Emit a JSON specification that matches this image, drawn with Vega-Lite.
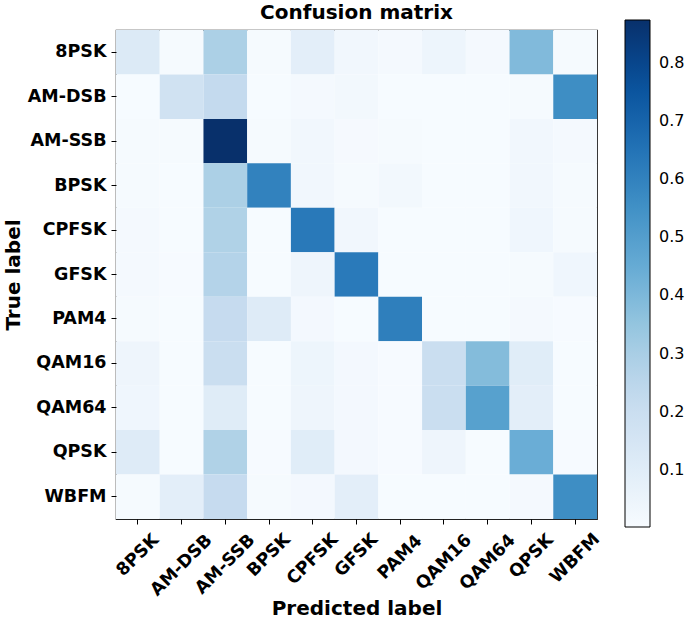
{
  "$schema": "https://vega.github.io/schema/vega-lite/v6.json",
  "autosize": {"type": "none"},
  "padding": {"left": 116, "top": 30, "right": 92, "bottom": 105},
  "width": 481,
  "height": 489,
  "background": "white",
  "title": {"text": "Confusion matrix", "font": "DejaVu Sans", "fontSize": 20, "fontWeight": "bold", "color": "black", "offset": 6, "dy": 9, "frame": "group"},
  "config": {
    "view": {"stroke": "#222", "strokeWidth": 1.2},
    "axis": {"labelFont": "DejaVu Sans", "labelFontWeight": "bold", "labelFontSize": 17.5, "labelColor": "black", "tickColor": "black", "tickSize": 5, "domain": false, "grid": false, "titleFont": "DejaVu Sans", "titleFontSize": 20, "titleFontWeight": "bold", "titleColor": "black"},
    "legend": {"labelFont": "DejaVu Sans", "labelFontSize": 16, "labelColor": "black"}
  },
  "data": {"values": [
    {"t":"8PSK","p":"8PSK","v":0.12},{"t":"8PSK","p":"AM-DSB","v":0.01},{"t":"8PSK","p":"AM-SSB","v":0.29},{"t":"8PSK","p":"BPSK","v":0.01},{"t":"8PSK","p":"CPFSK","v":0.09},{"t":"8PSK","p":"GFSK","v":0.03},{"t":"8PSK","p":"PAM4","v":0.015},{"t":"8PSK","p":"QAM16","v":0.045},{"t":"8PSK","p":"QAM64","v":0.015},{"t":"8PSK","p":"QPSK","v":0.39},{"t":"8PSK","p":"WBFM","v":0.01},
    {"t":"AM-DSB","p":"8PSK","v":0.005},{"t":"AM-DSB","p":"AM-DSB","v":0.175},{"t":"AM-DSB","p":"AM-SSB","v":0.225},{"t":"AM-DSB","p":"BPSK","v":0.005},{"t":"AM-DSB","p":"CPFSK","v":0.015},{"t":"AM-DSB","p":"GFSK","v":0.025},{"t":"AM-DSB","p":"PAM4","v":0.005},{"t":"AM-DSB","p":"QAM16","v":0.005},{"t":"AM-DSB","p":"QAM64","v":0.005},{"t":"AM-DSB","p":"QPSK","v":0.01},{"t":"AM-DSB","p":"WBFM","v":0.56},
    {"t":"AM-SSB","p":"8PSK","v":0.01},{"t":"AM-SSB","p":"AM-DSB","v":0.01},{"t":"AM-SSB","p":"AM-SSB","v":0.874},{"t":"AM-SSB","p":"BPSK","v":0.01},{"t":"AM-SSB","p":"CPFSK","v":0.03},{"t":"AM-SSB","p":"GFSK","v":0.012},{"t":"AM-SSB","p":"PAM4","v":0.01},{"t":"AM-SSB","p":"QAM16","v":0.005},{"t":"AM-SSB","p":"QAM64","v":0.005},{"t":"AM-SSB","p":"QPSK","v":0.03},{"t":"AM-SSB","p":"WBFM","v":0.015},
    {"t":"BPSK","p":"8PSK","v":0.01},{"t":"BPSK","p":"AM-DSB","v":0.005},{"t":"BPSK","p":"AM-SSB","v":0.29},{"t":"BPSK","p":"BPSK","v":0.6},{"t":"BPSK","p":"CPFSK","v":0.03},{"t":"BPSK","p":"GFSK","v":0.01},{"t":"BPSK","p":"PAM4","v":0.025},{"t":"BPSK","p":"QAM16","v":0.005},{"t":"BPSK","p":"QAM64","v":0.005},{"t":"BPSK","p":"QPSK","v":0.03},{"t":"BPSK","p":"WBFM","v":0.01},
    {"t":"CPFSK","p":"8PSK","v":0.015},{"t":"CPFSK","p":"AM-DSB","v":0.005},{"t":"CPFSK","p":"AM-SSB","v":0.28},{"t":"CPFSK","p":"BPSK","v":0.005},{"t":"CPFSK","p":"CPFSK","v":0.63},{"t":"CPFSK","p":"GFSK","v":0.03},{"t":"CPFSK","p":"PAM4","v":0.005},{"t":"CPFSK","p":"QAM16","v":0.005},{"t":"CPFSK","p":"QAM64","v":0.005},{"t":"CPFSK","p":"QPSK","v":0.035},{"t":"CPFSK","p":"WBFM","v":0.01},
    {"t":"GFSK","p":"8PSK","v":0.015},{"t":"GFSK","p":"AM-DSB","v":0.008},{"t":"GFSK","p":"AM-SSB","v":0.27},{"t":"GFSK","p":"BPSK","v":0.005},{"t":"GFSK","p":"CPFSK","v":0.04},{"t":"GFSK","p":"GFSK","v":0.625},{"t":"GFSK","p":"PAM4","v":0.005},{"t":"GFSK","p":"QAM16","v":0.005},{"t":"GFSK","p":"QAM64","v":0.005},{"t":"GFSK","p":"QPSK","v":0.01},{"t":"GFSK","p":"WBFM","v":0.035},
    {"t":"PAM4","p":"8PSK","v":0.01},{"t":"PAM4","p":"AM-DSB","v":0.005},{"t":"PAM4","p":"AM-SSB","v":0.22},{"t":"PAM4","p":"BPSK","v":0.11},{"t":"PAM4","p":"CPFSK","v":0.02},{"t":"PAM4","p":"GFSK","v":0.005},{"t":"PAM4","p":"PAM4","v":0.61},{"t":"PAM4","p":"QAM16","v":0.005},{"t":"PAM4","p":"QAM64","v":0.005},{"t":"PAM4","p":"QPSK","v":0.015},{"t":"PAM4","p":"WBFM","v":0.008},
    {"t":"QAM16","p":"8PSK","v":0.04},{"t":"QAM16","p":"AM-DSB","v":0.005},{"t":"QAM16","p":"AM-SSB","v":0.2},{"t":"QAM16","p":"BPSK","v":0.005},{"t":"QAM16","p":"CPFSK","v":0.045},{"t":"QAM16","p":"GFSK","v":0.02},{"t":"QAM16","p":"PAM4","v":0.008},{"t":"QAM16","p":"QAM16","v":0.2},{"t":"QAM16","p":"QAM64","v":0.385},{"t":"QAM16","p":"QPSK","v":0.1},{"t":"QAM16","p":"WBFM","v":0.005},
    {"t":"QAM64","p":"8PSK","v":0.035},{"t":"QAM64","p":"AM-DSB","v":0.005},{"t":"QAM64","p":"AM-SSB","v":0.105},{"t":"QAM64","p":"BPSK","v":0.005},{"t":"QAM64","p":"CPFSK","v":0.04},{"t":"QAM64","p":"GFSK","v":0.02},{"t":"QAM64","p":"PAM4","v":0.008},{"t":"QAM64","p":"QAM16","v":0.2},{"t":"QAM64","p":"QAM64","v":0.49},{"t":"QAM64","p":"QPSK","v":0.09},{"t":"QAM64","p":"WBFM","v":0.005},
    {"t":"QPSK","p":"8PSK","v":0.11},{"t":"QPSK","p":"AM-DSB","v":0.005},{"t":"QPSK","p":"AM-SSB","v":0.28},{"t":"QPSK","p":"BPSK","v":0.008},{"t":"QPSK","p":"CPFSK","v":0.1},{"t":"QPSK","p":"GFSK","v":0.02},{"t":"QPSK","p":"PAM4","v":0.008},{"t":"QPSK","p":"QAM16","v":0.04},{"t":"QPSK","p":"QAM64","v":0.005},{"t":"QPSK","p":"QPSK","v":0.44},{"t":"QPSK","p":"WBFM","v":0.008},
    {"t":"WBFM","p":"8PSK","v":0.01},{"t":"WBFM","p":"AM-DSB","v":0.09},{"t":"WBFM","p":"AM-SSB","v":0.22},{"t":"WBFM","p":"BPSK","v":0.01},{"t":"WBFM","p":"CPFSK","v":0.02},{"t":"WBFM","p":"GFSK","v":0.09},{"t":"WBFM","p":"PAM4","v":0.005},{"t":"WBFM","p":"QAM16","v":0.005},{"t":"WBFM","p":"QAM64","v":0.005},{"t":"WBFM","p":"QPSK","v":0.015},{"t":"WBFM","p":"WBFM","v":0.56}
  ]},
  "mark": {"type": "rect", "strokeWidth": 0},
  "encoding": {
    "x": {"field": "p", "type": "nominal", "title": "Predicted label",
      "sort": ["8PSK","AM-DSB","AM-SSB","BPSK","CPFSK","GFSK","PAM4","QAM16","QAM64","QPSK","WBFM"],
      "scale": {"paddingInner": 0, "paddingOuter": 0},
      "axis": {"labelAngle": -45, "labelAlign": "center", "labelBaseline": "middle",
        "labelPadding": {"condition": [
          {"test": "datum.value === 'AM-DSB'", "value": 41},
          {"test": "datum.value === 'AM-SSB'", "value": 40},
          {"test": "datum.value === 'CPFSK'", "value": 35},
          {"test": "datum.value === 'PAM4'", "value": 33},
          {"test": "datum.value === 'QAM16' || datum.value === 'QAM64'", "value": 38},
          {"test": "datum.value === 'QPSK'", "value": 32},
          {"test": "datum.value === 'WBFM'", "value": 34}
        ], "value": 31},
        "titleBaseline": "alphabetic", "titleY": 95}},
    "y": {"field": "t", "type": "nominal", "title": "True label",
      "sort": ["8PSK","AM-DSB","AM-SSB","BPSK","CPFSK","GFSK","PAM4","QAM16","QAM64","QPSK","WBFM"],
      "scale": {"paddingInner": 0, "paddingOuter": 0},
      "axis": {"labelPadding": 5, "titleBaseline": "alphabetic", "titleX": -97}},
    "color": {"field": "v", "type": "quantitative",
      "scale": {"domain": [0.0017, 0.874], "range": ["#f7fbff","#deebf7","#c6dbef","#9ecae1","#6baed6","#4292c6","#2171b5","#08519c","#08306b"], "interpolate": "rgb"},
      "legend": {"title": null, "orient": "none", "legendX": 509, "legendY": -10, "direction": "vertical", "gradientLength": 507, "gradientThickness": 25, "gradientStrokeColor": "black", "gradientStrokeWidth": 1, "values": [0.1,0.2,0.3,0.4,0.5,0.6,0.7,0.8], "format": ".1f", "labelOffset": 9}}
  }
}
